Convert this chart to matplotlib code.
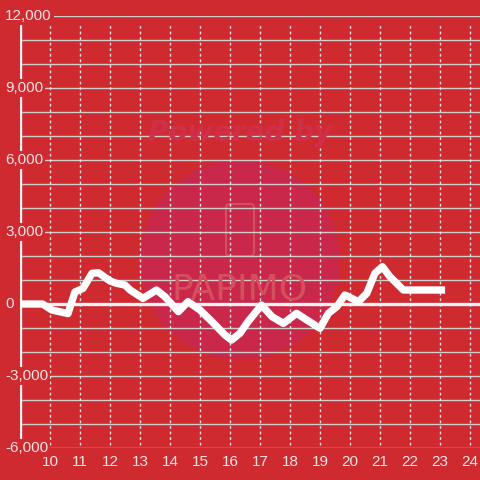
"""
Intraday balance line on red background, recreated with matplotlib.
"""

import matplotlib
matplotlib.use('Agg')
import matplotlib.pyplot as plt
from matplotlib.patches import Circle, FancyBboxPatch

# data (hour of day, balance)
hours = [9.0, 9.75, 10.06, 10.6, 10.83, 11.1, 11.4, 11.62, 12.0, 12.22,
         12.5, 12.67, 13.1, 13.55, 13.83, 14.28, 14.6, 15.0, 15.4, 15.83,
         16.05, 16.33, 16.6, 17.05, 17.4, 17.78, 18.22, 18.56, 19.0, 19.28,
         19.56, 19.83, 20.28, 20.56, 20.83, 21.08, 21.33, 21.78, 23.17]
balance = [0, 0, -250, -400, 500, 650, 1280, 1300, 960, 860,
           790, 583, 236, 583, 306, -319, 97, -250, -736, -1290,
           -1500, -1222, -736, -42, -528, -806, -389, -667, -1014, -389,
           -111, 375, 97, 444, 1278, 1556, 1139, 583, 583]

x_ticks = list(range(10, 25))
y_ticks = [-6000, -3000, 0, 3000, 6000, 9000, 12000]
grid_levels = list(range(-6000, 12001, 1000))

RED = '#ce2a30'
TXT = '#f3e4e4'

plt.rcParams['font.family'] = ['Liberation Sans', 'DejaVu Sans']

fig = plt.figure(figsize=(4.8, 4.8), dpi=100, facecolor=RED)
ax = fig.add_axes([20 / 480, 32 / 480, 460 / 480, 432 / 480])
ax.set_facecolor(RED)
ax.set_xlim(9, 9 + 460 / 30)
ax.set_ylim(-6000, 12000)
for s in ax.spines.values():
    s.set_visible(False)

# watermark
ax.add_patch(Circle((0.5, 1 - 260 / 480), 100 / 480, transform=fig.transFigure,
                    facecolor='#c9284a', edgecolor='none', zorder=0.5))
ax.add_patch(FancyBboxPatch((226 / 480, 1 - 256 / 480), 28 / 480, 52 / 480,
                            boxstyle='round,pad=0,rounding_size=0.008',
                            transform=fig.transFigure, facecolor='none',
                            edgecolor='#d4505f', lw=1.5, zorder=0.6))
fig.text(0.5, 1 - 133 / 480, 'Powered by', ha='center', va='center',
         fontsize=20, fontweight='bold', fontstyle='italic', color='#cf2f48',
         family='DejaVu Sans', zorder=0.6)
fig.text(0.5, 1 - 289 / 480, 'PAPIMO', ha='center', va='center',
         fontsize=26, color='#d4505f', family='DejaVu Sans', zorder=0.6)

# grid
for g in grid_levels:
    ax.axhline(g, color='#d2cfcf', lw=1.0, zorder=1)
for xv in x_ticks:
    ax.axvline(xv, ymin=3 / 432, ymax=425 / 432, color='#e6e0e0', lw=1.0,
               linestyle=(0, (2, 2)), zorder=1)
ax.axhline(0, color='#f4f4f4', lw=2.4, zorder=2)
ax.axvline(9.0, color='#f2f2f2', lw=2.4, zorder=2)

# the series
ax.plot(hours, balance, color='white', lw=5.3, solid_joinstyle='round',
        solid_capstyle='butt', zorder=3)

# tick labels
ax.set_xticks(x_ticks)
ax.set_xticklabels([str(v) for v in x_ticks])
ax.set_yticks([])
ax.tick_params(axis='x', length=0, pad=5, labelsize=11, labelcolor=TXT)
for yv in y_ticks:
    ax.text(-15 / 460, yv, f'{yv:,}', transform=ax.get_yaxis_transform(),
            ha='left', va='center', fontsize=11, color=TXT, zorder=5,
            bbox=dict(facecolor=RED, edgecolor='none', pad=1.5))

plt.savefig('out.png', dpi=100, facecolor=RED)
plt.close()
